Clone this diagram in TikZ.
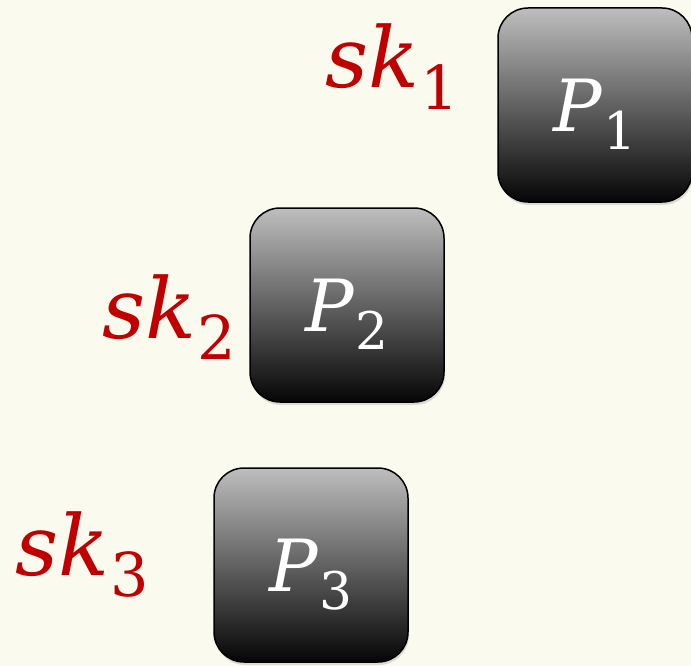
\documentclass[tikz,border=0pt]{standalone}
\usepackage{graphicx}
\usepackage{fontspec}
\setmainfont{DejaVu Serif}
\usepackage{tikz}
\usetikzlibrary{positioning,shadows}
\usepackage{xcolor}
\definecolor{paper}{HTML}{FBFAEF}
\definecolor{keyred}{HTML}{C00000}
\definecolor{boxtop}{HTML}{BEBEBE}
\definecolor{boxmid}{HTML}{989898}
\definecolor{boxbot}{HTML}{050505}
\newcommand\withidx[2]{\textit{#1}\kern0.02em\raisebox{-0.26em}{\scalebox{0.72}{#2}}}

\begin{document}
\begin{tikzpicture}[x=1pt,y=-1pt,
  party/.style={draw=black,line width=1.5pt,rounded corners=30pt,
    minimum width=194pt,minimum height=194pt,inner sep=0pt,text depth=0pt,
    top color=boxtop,middle color=boxmid,bottom color=boxbot,
    drop shadow={shadow xshift=1pt,shadow yshift=-3pt,opacity=0.25},
    text=white,font=\fontsize{72}{86}\selectfont},
  key/.style={anchor=base west,inner sep=0pt,text=keyred,
    font=\fontsize{84}{100}\selectfont}]
\useasboundingbox[fill=paper] (0,0) rectangle (691,666);
\node[party] (p1) at (595,105) {\withidx{P}{1}};
\node[party] (p2) at (347,305) {\withidx{P}{2}};
\node[party] (p3) at (311,565) {\withidx{P}{3}};
\node[key] (sk1) at (325,88) {\withidx{sk}{1}};
\node[key] (sk2) at (102,338) {\withidx{sk}{2}};
\node[key] (sk3) at (15,575) {\withidx{sk}{3}};
\end{tikzpicture}
\end{document}
